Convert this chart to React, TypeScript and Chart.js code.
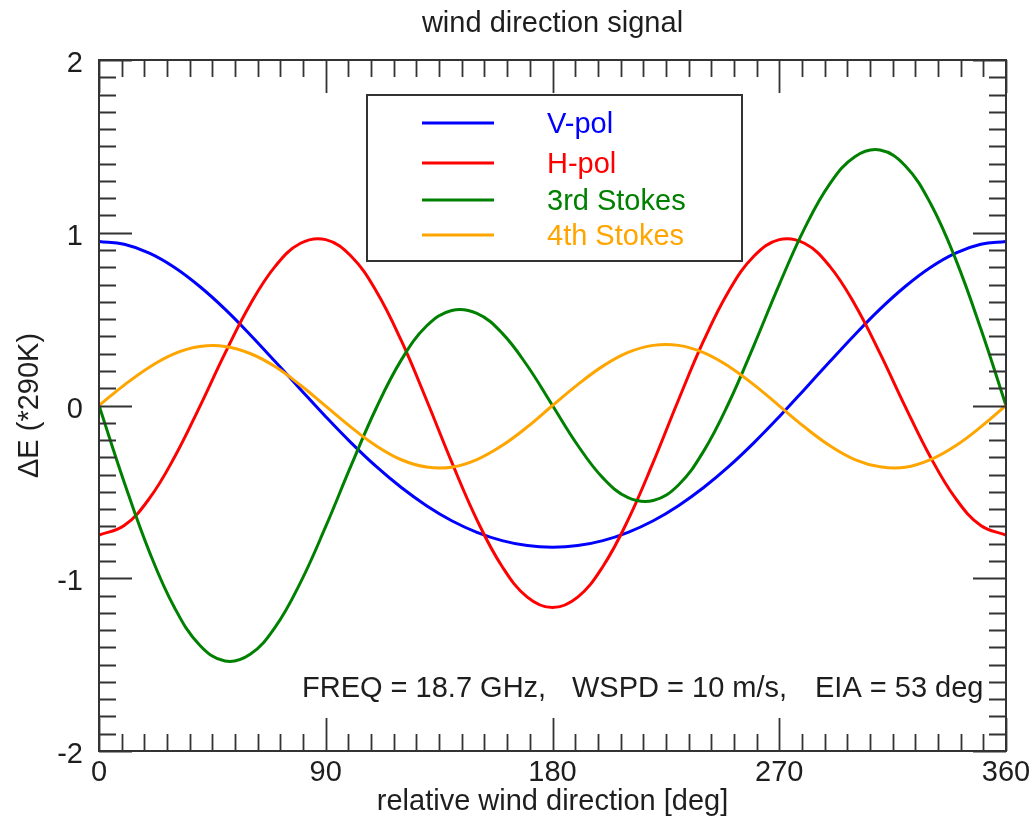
import React, { useEffect, useRef } from "react";
import { Chart, registerables } from "chart.js";

Chart.register(...registerables);

// Relative wind direction, degrees
const directions = [
  0, 10, 20, 30, 40, 50, 60, 70, 80, 90, 100, 110, 120, 130, 140, 150, 160, 170, 180,
  190, 200, 210, 220, 230, 240, 250, 260, 270, 280, 290, 300, 310, 320, 330, 340, 350, 360,
];

// Signal amplitudes in units of 290 K
const vPol = [
  0.95, 0.933, 0.882, 0.799, 0.689, 0.558, 0.41, 0.253, 0.093, -0.065, -0.215, -0.353, -0.475,
  -0.58, -0.667, -0.734, -0.782, -0.811, -0.82, -0.811, -0.782, -0.734, -0.667, -0.58, -0.475,
  -0.353, -0.215, -0.065, 0.093, 0.253, 0.41, 0.558, 0.689, 0.799, 0.882, 0.933, 0.95,
];
const hPol = [
  -0.75, -0.695, -0.538, -0.298, -0.006, 0.302, 0.585, 0.807, 0.939, 0.96, 0.865, 0.663, 0.375,
  0.032, -0.328, -0.662, -0.932, -1.109, -1.17, -1.109, -0.932, -0.662, -0.328, 0.032, 0.375,
  0.663, 0.865, 0.96, 0.939, 0.807, 0.585, 0.302, -0.006, -0.298, -0.538, -0.695, -0.75,
];
const stokes3 = [
  0, -0.444, -0.847, -1.171, -1.388, -1.479, -1.44, -1.282, -1.024, -0.7, -0.35, -0.016, 0.264,
  0.46, 0.55, 0.533, 0.419, 0.23, 0, -0.23, -0.419, -0.533, -0.55, -0.46, -0.264, 0.016, 0.35,
  0.7, 1.024, 1.282, 1.44, 1.479, 1.388, 1.171, 0.847, 0.444, 0,
];
const stokes4 = [
  0, 0.118, 0.222, 0.3, 0.341, 0.342, 0.301, 0.224, 0.117, -0.004, -0.125, -0.233, -0.314,
  -0.356, -0.357, -0.313, -0.232, -0.124, 0, 0.121, 0.228, 0.307, 0.348, 0.348, 0.306, 0.226,
  0.119, -0.002, -0.124, -0.232, -0.313, -0.355, -0.358, -0.314, -0.233, -0.124, 0,
];

const seriesNames = ["V-pol", "H-pol", "3rd Stokes", "4th Stokes"];
const seriesColors = ["#0000ff", "#ff0000", "#008000", "#ffa500"];

const xTickValues = [0, 90, 180, 270, 360];
const yTickValues = [2, 1, 0, -1, -2];

const chartTitle = "wind direction signal";
const xTitle = "relative wind direction [deg]";
const yTitle = "\u0394E (*290K)";
const infoParts = ["FREQ = 18.7 GHz,", "WSPD = 10 m/s,", "EIA = 53 deg"];

const FONT = "29px 'Liberation Sans', Arial, Helvetica, sans-serif";
const INK = "#1e1e1e";
const FRAME = "#333333";

const framePlugin = {
  id: "idlFrame",
  afterDraw(chart: any) {
    const { ctx, chartArea } = chart;
    const { left, right, top, bottom } = chartArea;
    const xs = chart.scales.x;
    const ys = chart.scales.y;
    ctx.save();

    // plot frame
    ctx.strokeStyle = FRAME;
    ctx.lineWidth = 2;
    ctx.strokeRect(left, top, right - left, bottom - top);

    // inward ticks on all four sides
    ctx.lineWidth = 1.8;
    ctx.beginPath();
    for (let d = 0; d <= 360; d += 9) {
      const px = Math.round(xs.getPixelForValue(d)) + 0.5;
      const len = d % 90 === 0 ? 33 : 17;
      ctx.moveTo(px, bottom);
      ctx.lineTo(px, bottom - len);
      ctx.moveTo(px, top);
      ctx.lineTo(px, top + len);
    }
    for (let i = -20; i <= 20; i++) {
      const py = Math.round(ys.getPixelForValue(i / 10)) + 0.5;
      const len = i % 10 === 0 ? 33 : 17;
      ctx.moveTo(left, py);
      ctx.lineTo(left + len, py);
      ctx.moveTo(right, py);
      ctx.lineTo(right - len, py);
    }
    ctx.stroke();

    ctx.font = FONT;
    ctx.fillStyle = INK;

    // tick labels
    ctx.textAlign = "right";
    ctx.textBaseline = "alphabetic";
    yTickValues.forEach((v) => {
      ctx.fillText(String(v), 83, ys.getPixelForValue(v) + 12);
    });
    ctx.textAlign = "center";
    xTickValues.forEach((v) => {
      ctx.fillText(String(v), xs.getPixelForValue(v), 781);
    });

    // titles
    ctx.fillText(chartTitle, (left + right) / 2, 32);
    ctx.fillText(xTitle, (left + right) / 2, 810);
    ctx.save();
    ctx.translate(38, (top + bottom) / 2);
    ctx.rotate(-Math.PI / 2);
    ctx.fillText(yTitle, 0, 0);
    ctx.restore();

    // run parameters
    ctx.textAlign = "left";
    const infoX = [302, 572, 815];
    infoParts.forEach((t, i) => ctx.fillText(t, infoX[i], 697));

    // legend
    ctx.strokeStyle = FRAME;
    ctx.lineWidth = 2;
    ctx.fillStyle = "#ffffff";
    ctx.fillRect(367, 95, 375, 166);
    ctx.strokeRect(367, 95, 375, 166);
    const rows = [123, 163, 200, 235];
    seriesNames.forEach((name, i) => {
      ctx.strokeStyle = seriesColors[i];
      ctx.lineWidth = 3;
      ctx.beginPath();
      ctx.moveTo(422, rows[i]);
      ctx.lineTo(494, rows[i]);
      ctx.stroke();
      ctx.fillStyle = seriesColors[i];
      ctx.fillText(name, 547, rows[i] + 10);
    });

    ctx.restore();
  },
};

export default function App() {
  const canvasRef = useRef<HTMLCanvasElement | null>(null);

  useEffect(() => {
    const canvas = canvasRef.current;
    if (!canvas) return;
    const seriesValues = [vPol, hPol, stokes3, stokes4];
    const chart = new Chart(canvas, {
      type: "line",
      data: {
        datasets: seriesValues.map((vals, i) => ({
          label: seriesNames[i],
          data: directions.map((d, j) => ({ x: d, y: vals[j] })),
          borderColor: seriesColors[i],
          borderWidth: 3,
          pointRadius: 0,
          tension: 0.4,
          fill: false,
          order: 4 - i,
        })),
      },
      options: {
        responsive: false,
        animation: false,
        layout: { padding: { left: 99, top: 60, right: 27, bottom: 66 } },
        scales: {
          x: { type: "linear", min: 0, max: 360, display: false },
          y: { type: "linear", min: -2, max: 2, display: false },
        },
        plugins: {
          legend: { display: false },
          title: { display: false },
          tooltip: { enabled: false },
        },
      },
      plugins: [framePlugin],
    });
    return () => chart.destroy();
  }, []);

  return (
    <div style={{ position: "fixed", left: 0, top: 0, width: 1033, height: 817, background: "#ffffff" }}>
      <canvas ref={canvasRef} width={1033} height={817} style={{ display: "block" }} />
    </div>
  );
}
